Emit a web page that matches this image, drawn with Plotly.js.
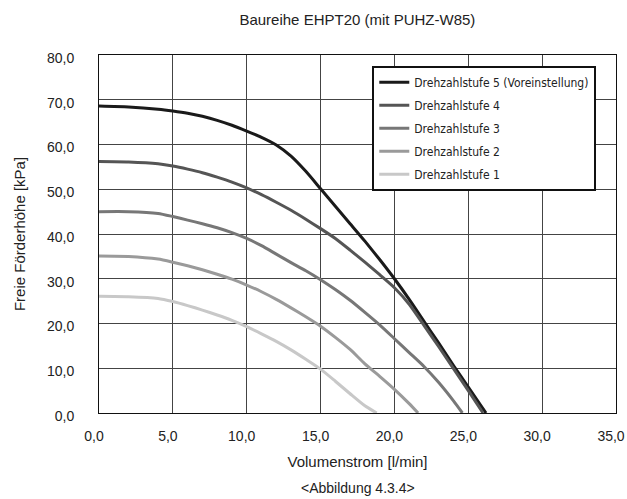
<!DOCTYPE html>
<html>
<head>
<meta charset="utf-8">
<script src="https://cdn.plot.ly/plotly-3.0.1.min.js"></script>
<style>html,body{margin:0;padding:0;background:#fff;}#chart{width:627px;height:499px;}</style>
</head>
<body>
<div id="chart"></div>
<script>
// Volumenstrom [l/min] / Freie Förderhöhe [kPa]
var flow5 = [0, 2, 4, 5, 6, 7, 8, 9, 10, 11, 12, 13, 14, 15, 16, 17, 18, 19, 20, 21, 22, 23, 24, 25, 26.2];
var head5 = [68.6, 68.4, 67.9, 67.5, 67.0, 66.3, 65.4, 64.3, 63.0, 61.6, 59.9, 57.4, 54.0, 50.1, 46.2, 42.3, 38.4, 34.3, 30.0, 25.4, 20.5, 15.6, 10.6, 5.8, 0.0];

var flow4 = [0, 2, 4, 5, 6, 7, 8, 9, 10, 11, 12, 13, 14, 15, 16, 17, 18, 19, 20, 21, 22, 23, 24, 25, 26.0];
var head4 = [56.2, 56.1, 55.7, 55.2, 54.5, 53.7, 52.7, 51.6, 50.3, 48.8, 47.1, 45.3, 43.3, 41.2, 39.0, 36.4, 33.7, 30.9, 28.0, 24.3, 19.6, 14.8, 9.9, 5.0, 0.0];

var flow3 = [0, 2, 4, 5, 6, 7, 8, 9, 10, 11, 12, 13, 14, 15, 16, 17, 18, 19, 20, 21, 22, 23, 24, 24.6];
var head3 = [45.0, 45.0, 44.6, 43.9, 43.1, 42.3, 41.4, 40.3, 39.0, 37.4, 35.5, 33.6, 31.8, 29.8, 27.6, 25.2, 22.5, 19.7, 16.6, 13.5, 10.4, 6.8, 2.7, 0.0];

var flow2 = [0, 2, 4, 5, 6, 7, 8, 9, 10, 11, 12, 13, 14, 15, 16, 17, 18, 19, 20, 21, 21.6];
var head2 = [35.1, 35.0, 34.4, 33.7, 32.9, 32.0, 31.0, 29.9, 28.6, 27.1, 25.4, 23.5, 21.5, 19.4, 16.9, 14.2, 11.0, 8.2, 5.3, 2.1, 0.0];

var flow1 = [0, 2, 4, 5, 6, 7, 8, 9, 10, 11, 12, 13, 14, 15, 16, 17, 18, 18.8];
var head1 = [26.1, 26.0, 25.6, 24.9, 24.0, 23.0, 21.9, 20.7, 19.3, 17.7, 16.0, 14.1, 12.0, 9.8, 7.1, 4.3, 1.6, 0.0];

var seriesNames = ["Drehzahlstufe 5 (Voreinstellung)", "Drehzahlstufe 4", "Drehzahlstufe 3", "Drehzahlstufe 2", "Drehzahlstufe 1"];
var seriesColors = ["#1a1a1a", "#555555", "#777777", "#9a9a9a", "#c8c8c8"];
var xTickVals = [0, 5, 10, 15, 20, 25, 30, 35];
var yTickVals = [0, 10, 20, 30, 40, 50, 60, 70, 80];

var xs = [flow5, flow4, flow3, flow2, flow1];
var ys = [head5, head4, head3, head2, head1];

var traces = [];
for (var i = 0; i < xs.length; i++) {
  traces.push({
    x: xs[i], y: ys[i], name: seriesNames[i], type: 'scatter', mode: 'lines',
    legendgroup: 'g' + i,
    line: {color: seriesColors[i], width: 3, shape: 'spline', smoothing: 0.6},
    hoverinfo: 'skip'
  });
}

var fam = 'Liberation Sans, Arial, sans-serif';

var layout = {
  width: 627, height: 499,
  margin: {l: 99, r: 11, t: 55, b: 86, pad: 0},
  paper_bgcolor: '#fff', plot_bgcolor: '#fff',
  separators: ',.',
  font: {family: fam, size: 14, color: '#222'},
  title: {text: 'Baureihe EHPT20 (mit PUHZ-W85)', font: {family: fam, size: 15, color: '#222'}, x: 0.57, xanchor: 'center', y: 0.96, yanchor: 'middle'},
  xaxis: {
    range: [0, 35], tickvals: xTickVals, tickformat: '.1f', ticks: '',
    showgrid: true, gridcolor: '#444', gridwidth: 1, zeroline: false,
    showline: true, linecolor: '#111', linewidth: 1, mirror: true,
    ticklabelstandoff: 10, ticklabelshift: -5,
    tickfont: {family: fam, size: 14, color: '#222'},
    title: {text: 'Volumenstrom [l/min]', font: {family: fam, size: 15, color: '#222'}, standoff: 13},
    fixedrange: true
  },
  yaxis: {
    range: [0, 80], tickvals: yTickVals, tickformat: '.1f', ticks: '',
    showgrid: true, gridcolor: '#444', gridwidth: 1, zeroline: false,
    showline: true, linecolor: '#111', linewidth: 1, mirror: true,
    ticklabelstandoff: 21, ticklabelshift: 3,
    tickfont: {family: fam, size: 14, color: '#222'},
    title: {text: 'Freie Förderhöhe [kPa]', font: {family: fam, size: 15, color: '#222'}, standoff: 17},
    fixedrange: true
  },
  showlegend: true,
  legend: {
    x: 0.5286, xanchor: 'left', y: 0.97, yanchor: 'top',
    bgcolor: '#fff', bordercolor: '#111', borderwidth: 2,
    tracegroupgap: 4, traceorder: 'grouped',
    font: {family: 'Liberation Sans Narrow, DejaVu Sans Condensed, Arial Narrow, sans-serif', size: 12, color: '#222'}
  },
  annotations: [{
    text: '&lt;Abbildung 4.3.4&gt;', xref: 'paper', yref: 'paper', x: 0.5, y: -0.2105,
    xanchor: 'center', yanchor: 'middle', showarrow: false,
    font: {family: fam, size: 14, color: '#222'}
  }]
};

Plotly.newPlot('chart', traces, layout, {displayModeBar: false, staticPlot: true});
</script>
</body>
</html>
